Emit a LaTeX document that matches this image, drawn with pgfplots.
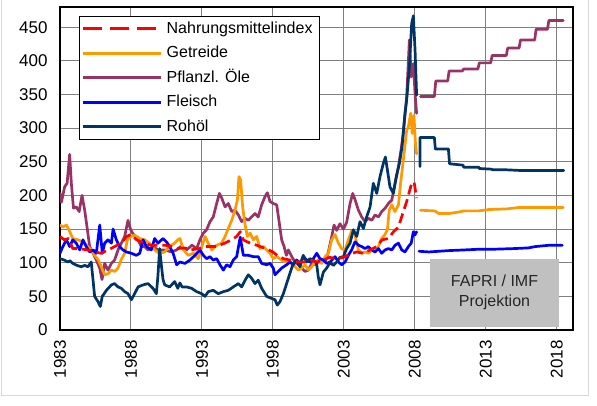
\documentclass[border=0pt]{standalone}
\usepackage{fontspec}
\setmainfont{Liberation Sans}
\usepackage{pgfplots}
\pgfplotsset{compat=1.18}
\definecolor{cred}{RGB}{255,0,0}
\definecolor{corange}{RGB}{255,153,0}
\definecolor{cpurple}{RGB}{153,51,102}
\definecolor{cblue}{RGB}{0,0,255}
\definecolor{cnavy}{RGB}{0,51,102}
\definecolor{boxgray}{RGB}{192,192,192}
\definecolor{framegray}{RGB}{217,217,217}
\begin{document}
\begin{tikzpicture}
\useasboundingbox (0,0) rectangle (597pt,405pt);
\fill[white] (0,0) rectangle (597pt,405pt);
\draw[framegray, line width=0.8pt] (1.7pt,405pt) -- (1.7pt,10pt) -- (588pt,10pt) -- (588pt,405pt);
\begin{axis}[
  at={(60pt,75pt)}, anchor=south west,
  scale only axis, width=513pt, height=323pt,
  xmin=1983, xmax=2019.15, ymin=0, ymax=480,
  xtick={1983,1988,1993,1998,2003,2008,2013,2018},
  xticklabels={1983,1988,1993,1998,2003,2008,2013,2018},
  ytick={0,50,100,150,200,250,300,350,400,450},
  yticklabels={0,50,100,150,200,250,300,350,400,450},
  major tick length=0pt,
  grid=major,
  major grid style={draw=gray, line width=1pt},
  axis line style={black, line width=1.3pt},
  ticklabel style={font=\fontsize{17}{20}\selectfont},
  yticklabel style={xshift=-9pt},
  xticklabel style={rotate=90, anchor=east, xshift=-7pt},
  legend style={at={(0.037,0.972)}, anchor=north west, draw=black, line width=1pt, fill=white,
    font=\fontsize{16}{19}\selectfont, inner xsep=2pt, inner ysep=0pt, row sep=0pt,
    nodes={inner sep=4.5pt, text height=12pt, text depth=3.5pt}},
  legend cell align=left,
  legend image code/.code={\draw[#1] (0pt,0pt) -- (78pt,0pt);},
  every axis plot/.append style={line join=round, line cap=round},
]
% annotation box
\fill[boxgray] (axis cs:2009.07,4.5) rectangle (axis cs:2018.17,105.5);
\node[align=center, font=\fontsize{16}{20}\selectfont, text=black!85] at (axis cs:2013.62,56) {FAPRI / IMF\\Projektion};

\addlegendimage{cred, line width=2.7pt, line cap=butt, dash pattern=on 19pt off 8pt}
\addlegendentry{Nahrungsmittelindex}
\addlegendimage{corange, line width=2.7pt, line cap=butt}
\addlegendentry{Getreide}
\addlegendimage{cpurple, line width=2.7pt, line cap=butt}
\addlegendentry{Pflanzl. Öle}
\addlegendimage{cblue, line width=2.7pt, line cap=butt}
\addlegendentry{Fleisch}
\addlegendimage{cnavy, line width=2.7pt, line cap=butt}
\addlegendentry{Rohöl}

% Pflanzl. Oele
\addplot[cpurple, line width=2.7pt, forget plot] coordinates {
(1983.0,203) (1983.1,190) (1983.33,213) (1983.5,218) (1983.68,261) (1983.8,218) (1983.95,181) (1984.15,183) (1984.35,176) (1984.55,200) (1984.74,178) (1984.93,149) (1985.09,124) (1985.33,114) (1985.56,104) (1985.8,92) (1985.96,75) (1986.15,99) (1986.38,89) (1986.62,99) (1986.85,104) (1987.09,119) (1987.32,129) (1987.56,139) (1987.79,163) (1987.98,149) (1988.26,139) (1988.5,134) (1988.73,124) (1988.97,124) (1989.2,119) (1989.55,124) (1989.9,119) (1990.38,119) (1990.85,116) (1991.22,119) (1991.5,124) (1991.92,119) (1992.3,126) (1992.63,121) (1992.86,134) (1993.1,144) (1993.33,149) (1993.57,161) (1993.8,168) (1994.04,188) (1994.23,203) (1994.4,196) (1994.63,183) (1994.86,188) (1995.1,176) (1995.33,178) (1995.57,171) (1995.8,161) (1996.04,166) (1996.27,163) (1996.5,168) (1996.74,173) (1996.97,168) (1997.21,186) (1997.44,198) (1997.61,204) (1997.8,191) (1998.03,188) (1998.27,186) (1998.46,158) (1998.62,134) (1998.79,124) (1998.95,111) (1999.09,119) (1999.33,109) (1999.56,101) (1999.8,97) (2000.03,92) (2000.27,87) (2000.5,89) (2000.74,99) (2000.97,97) (2001.2,101) (2001.44,104) (2001.68,101) (2001.91,116) (2002.15,139) (2002.31,156) (2002.5,148) (2002.73,158) (2002.97,150) (2003.2,160) (2003.44,188) (2003.63,203) (2003.8,193) (2004.03,178) (2004.26,168) (2004.5,161) (2004.73,166) (2004.97,163) (2005.2,171) (2005.44,168) (2005.67,176) (2005.91,181) (2006.14,188) (2006.38,193) (2006.61,218) (2006.85,243) (2007.05,270) (2007.19,292) (2007.43,347) (2007.62,431) (2007.75,376) (2007.9,396) (2008.02,351) (2008.13,322)
};
\addplot[cpurple, line width=2.7pt, forget plot] coordinates {
(2008.4,347) (2009.38,347) (2009.48,370) (2010.32,370) (2010.42,385) (2011.35,385) (2011.45,388) (2012.45,388) (2012.55,397) (2013.35,397) (2013.45,408) (2014.45,408) (2014.55,419) (2015.35,419) (2015.45,431) (2016.45,431) (2016.55,447) (2017.35,447) (2017.45,460) (2018.47,460)
};

% Getreide
\addplot[corange, line width=2.7pt, forget plot] coordinates {
(1983.0,156) (1983.2,153) (1983.45,156) (1983.65,148) (1983.9,136) (1984.27,134) (1984.6,131) (1984.97,124) (1985.2,119) (1985.44,111) (1985.7,104) (1985.91,94) (1986.15,82) (1986.4,84) (1986.62,89) (1986.85,87) (1987.09,92) (1987.3,104) (1987.56,114) (1987.75,134) (1987.98,139) (1988.26,141) (1988.62,136) (1988.97,134) (1989.3,129) (1989.67,119) (1990.0,114) (1990.38,116) (1990.7,124) (1991.08,129) (1991.3,134) (1991.45,136) (1991.7,119) (1992.04,111) (1992.4,114) (1992.75,106) (1993.0,124) (1993.22,139) (1993.45,129) (1993.69,119) (1994.04,126) (1994.39,129) (1994.63,139) (1994.86,151) (1995.1,163) (1995.33,178) (1995.5,193) (1995.61,228) (1995.73,223) (1995.87,183) (1996.03,158) (1996.2,139) (1996.4,144) (1996.62,134) (1996.86,139) (1997.09,121) (1997.33,124) (1997.56,119) (1997.8,114) (1998.03,106) (1998.27,109) (1998.62,104) (1998.86,101) (1999.09,104) (1999.33,99) (1999.56,94) (1999.8,89) (2000.03,92) (2000.27,97) (2000.5,89) (2000.74,94) (2000.97,101) (2001.2,104) (2001.44,99) (2001.68,109) (2001.91,114) (2002.15,134) (2002.38,142) (2002.62,129) (2002.85,121) (2003.09,119) (2003.32,134) (2003.55,147) (2003.7,148) (2003.86,134) (2004.03,119) (2004.26,114) (2004.5,116) (2004.73,114) (2004.97,119) (2005.2,116) (2005.43,124) (2005.67,136) (2005.87,141) (2006.07,149) (2006.2,178) (2006.38,186) (2006.6,176) (2006.85,186) (2007.0,218) (2007.19,252) (2007.43,297) (2007.55,302) (2007.71,322) (2007.82,292) (2007.94,319) (2008.05,277) (2008.13,262)
};
\addplot[corange, line width=2.7pt, forget plot] coordinates {
(2008.4,178) (2009.4,177) (2009.7,173) (2010.4,173) (2011.0,175) (2011.5,177) (2012.5,177) (2013.2,179) (2014.5,180) (2015.3,182) (2016.5,182) (2017.5,182) (2018.47,182)
};

% Fleisch
\addplot[cblue, line width=2.7pt, forget plot] coordinates {
(1983.0,114) (1983.2,124) (1983.45,134) (1983.68,124) (1983.9,134) (1984.15,129) (1984.39,119) (1984.62,134) (1984.85,124) (1985.09,116) (1985.33,119) (1985.56,114) (1985.8,156) (1985.98,114) (1986.15,129) (1986.38,134) (1986.62,129) (1986.74,150) (1986.97,134) (1987.2,124) (1987.44,119) (1987.68,116) (1988.03,114) (1988.38,111) (1988.62,114) (1988.85,134) (1989.1,124) (1989.43,119) (1989.67,136) (1989.9,129) (1990.26,136) (1990.5,131) (1990.73,124) (1990.97,114) (1991.22,97) (1991.45,101) (1991.81,99) (1992.16,104) (1992.51,111) (1992.86,119) (1993.1,111) (1993.33,106) (1993.57,109) (1993.8,104) (1994.04,106) (1994.27,97) (1994.51,89) (1994.74,97) (1994.98,94) (1995.21,104) (1995.45,109) (1995.7,138) (1995.92,111) (1996.27,111) (1996.62,109) (1996.97,109) (1997.21,99) (1997.56,97) (1997.8,99) (1998.03,92) (1998.15,82) (1998.38,87) (1998.62,92) (1998.97,97) (1999.21,101) (1999.44,97) (1999.68,104) (1999.91,99) (2000.15,109) (2000.38,104) (2000.62,101) (2000.85,106) (2001.09,114) (2001.32,106) (2001.56,104) (2001.79,99) (2002.03,101) (2002.38,109) (2002.62,101) (2002.85,97) (2003.09,101) (2003.32,111) (2003.55,119) (2003.79,131) (2004.03,126) (2004.26,124) (2004.5,121) (2004.73,124) (2004.97,119) (2005.2,116) (2005.44,121) (2005.67,114) (2005.91,119) (2006.14,121) (2006.38,119) (2006.61,126) (2006.85,129) (2007.08,119) (2007.31,116) (2007.55,124) (2007.75,129) (2007.9,146) (2008.0,141) (2008.13,146)
};
\addplot[cblue, line width=2.7pt, forget plot] coordinates {
(2008.3,117) (2009.0,116) (2010.4,118) (2011.5,119) (2012.5,120) (2013.5,120) (2015.0,121) (2016.0,122) (2016.5,124) (2017.5,126) (2018.4,126)
};

% Rohoel
\addplot[cnavy, line width=2.7pt, forget plot] coordinates {
(1983.0,106) (1983.3,104) (1983.55,101) (1983.7,103) (1983.9,99) (1984.2,96) (1984.5,94) (1984.74,96) (1984.97,94) (1985.2,101) (1985.33,74) (1985.44,50) (1985.68,42) (1985.84,35) (1985.98,50) (1986.27,59) (1986.62,67) (1986.85,69) (1987.09,64) (1987.32,62) (1987.56,57) (1987.79,54) (1988.03,45) (1988.26,54) (1988.5,64) (1988.85,67) (1989.2,69) (1989.55,62) (1989.79,54) (1989.9,80) (1990.02,121) (1990.15,95) (1990.26,75) (1990.38,67) (1990.73,64) (1991.08,72) (1991.3,62) (1991.45,70) (1991.6,64) (1991.92,64) (1992.27,62) (1992.63,57) (1992.98,54) (1993.22,50) (1993.45,57) (1993.8,59) (1994.15,54) (1994.51,57) (1994.86,59) (1995.21,64) (1995.57,69) (1995.8,64) (1996.04,74) (1996.27,82) (1996.5,77) (1996.74,69) (1996.97,74) (1997.21,62) (1997.56,50) (1997.9,47) (1998.15,45) (1998.31,37) (1998.5,42) (1998.74,54) (1998.97,69) (1999.2,84) (1999.44,99) (1999.67,103) (1999.91,94) (2000.14,111) (2000.38,101) (2000.61,106) (2000.85,104) (2001.08,99) (2001.2,79) (2001.32,67) (2001.56,86) (2001.79,92) (2002.03,100) (2002.27,96) (2002.5,101) (2002.73,108) (2002.97,109) (2003.2,121) (2003.44,129) (2003.67,149) (2003.91,139) (2004.14,161) (2004.38,151) (2004.61,168) (2004.85,183) (2005.08,218) (2005.32,203) (2005.55,228) (2005.79,248) (2005.93,257) (2006.07,238) (2006.25,213) (2006.49,203) (2006.7,228) (2006.92,248) (2007.1,272) (2007.31,322) (2007.43,342) (2007.62,391) (2007.78,455) (2007.9,467) (2008.02,416) (2008.13,349)
};
\addplot[cnavy, line width=2.7pt, forget plot] coordinates {
(2008.37,243) (2008.37,286) (2009.38,286) (2009.45,269) (2010.37,269) (2010.45,247) (2011.4,245) (2011.45,242) (2012.5,242) (2012.55,240) (2013.4,239) (2013.5,238) (2014.5,238) (2015.5,237) (2018.5,237)
};

% Nahrungsmittelindex
\addplot[cred, line width=2.7pt, line cap=butt, dash pattern=on 10pt off 5pt, forget plot] coordinates {
(1983.0,139) (1983.3,134) (1983.6,136) (1983.9,121) (1984.3,121) (1984.97,119) (1985.5,116) (1985.9,114) (1986.4,119) (1986.85,124) (1987.3,129) (1987.7,139) (1988.0,142) (1988.4,134) (1988.97,129) (1989.4,126) (1989.9,126) (1990.4,126) (1990.85,124) (1991.3,121) (1991.8,122) (1992.2,119) (1992.8,121) (1993.3,124) (1994.0,124) (1994.6,129) (1995.1,134) (1995.45,139) (1995.7,146) (1995.92,134) (1996.4,129) (1996.86,126) (1997.5,121) (1998.0,116) (1998.3,111) (1998.74,106) (1999.2,104) (1999.68,101) (2000.2,101) (2000.62,104) (2001.1,101) (2001.56,104) (2002.0,108) (2002.5,106) (2003.0,108) (2003.44,113) (2003.9,116) (2004.38,114) (2004.85,119) (2005.32,124) (2005.7,134) (2006.14,136) (2006.5,146) (2006.85,153) (2007.15,173) (2007.43,191) (2007.78,218) (2007.95,220) (2008.13,196)
};
\end{axis}
\end{tikzpicture}
\end{document}
